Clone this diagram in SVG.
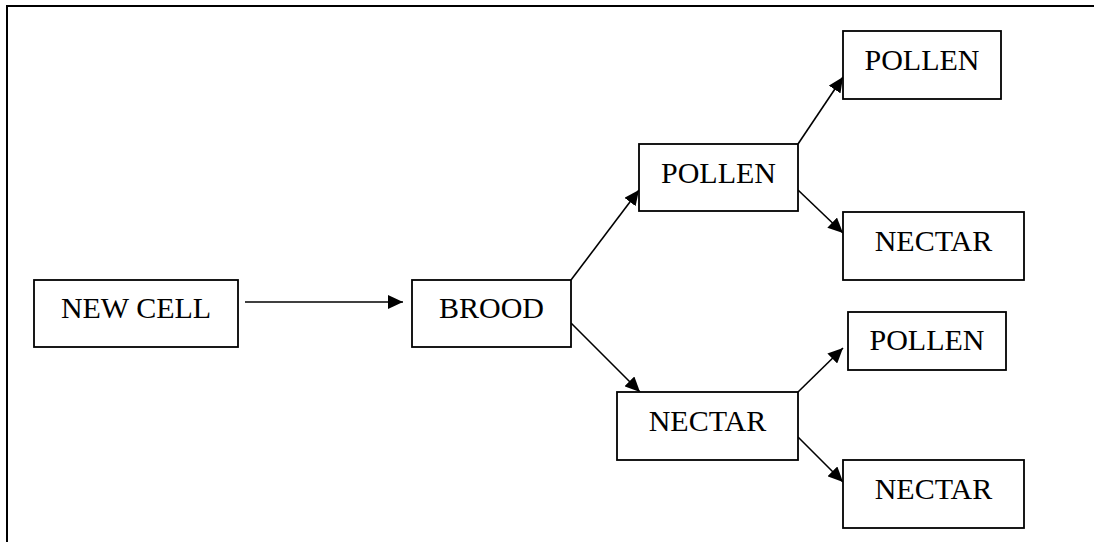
<svg xmlns="http://www.w3.org/2000/svg" width="1094" height="542" viewBox="0 0 1094 542">
  <defs>
    <marker id="arrow" viewBox="0 0 15 14" refX="15" refY="7" markerWidth="15" markerHeight="14" markerUnits="userSpaceOnUse" orient="auto">
      <path d="M0,0 L15,7 L0,14 Z" fill="#000"/>
    </marker>
    <style>
      .box { fill: #fff; stroke: #000; stroke-width: 1.8; }
      .label { font-family: "Liberation Serif", "Times New Roman", serif; font-size: 30px; fill: #000; text-anchor: middle; }
      .edge { stroke: #000; stroke-width: 1.6; fill: none; marker-end: url(#arrow); }
      .frame { stroke: #000; stroke-width: 2; fill: none; }
    </style>
  </defs>
  <rect width="1094" height="542" fill="#fff"/>

  <!-- page frame (top and left edges) -->
  <path class="frame" d="M7,542 L7,6 L1094,6"/>

  <g id="connectors">
    <line class="edge" x1="245" y1="302" x2="403" y2="302"/>
    <line class="edge" x1="571" y1="280" x2="639" y2="190"/>
    <line class="edge" x1="571" y1="323" x2="640" y2="392"/>
    <line class="edge" x1="798" y1="144" x2="843" y2="77"/>
    <line class="edge" x1="798" y1="190" x2="843" y2="233"/>
    <line class="edge" x1="798" y1="392" x2="843" y2="348"/>
    <line class="edge" x1="798" y1="437" x2="843" y2="482"/>
  </g>

  <g id="new-cell">
    <rect class="box" x="34" y="280" width="204" height="67"/>
    <text class="label" x="136" y="318">NEW CELL</text>
  </g>

  <g id="brood">
    <rect class="box" x="412" y="280" width="159" height="67"/>
    <text class="label" x="491.5" y="318">BROOD</text>
  </g>

  <g id="pollen">
    <rect class="box" x="639" y="144" width="159" height="67"/>
    <text class="label" x="718.5" y="183">POLLEN</text>
  </g>

  <g id="nectar">
    <rect class="box" x="617" y="392" width="181" height="68"/>
    <text class="label" x="707.5" y="431">NECTAR</text>
  </g>

  <g id="pollen-pollen">
    <rect class="box" x="843" y="31" width="158" height="68"/>
    <text class="label" x="922" y="70">POLLEN</text>
  </g>

  <g id="pollen-nectar">
    <rect class="box" x="843" y="212" width="181" height="68"/>
    <text class="label" x="933.5" y="251">NECTAR</text>
  </g>

  <g id="nectar-pollen">
    <rect class="box" x="848" y="312" width="158" height="58"/>
    <text class="label" x="927" y="350">POLLEN</text>
  </g>

  <g id="nectar-nectar">
    <rect class="box" x="843" y="460" width="181" height="68"/>
    <text class="label" x="933.5" y="499">NECTAR</text>
  </g>
</svg>
